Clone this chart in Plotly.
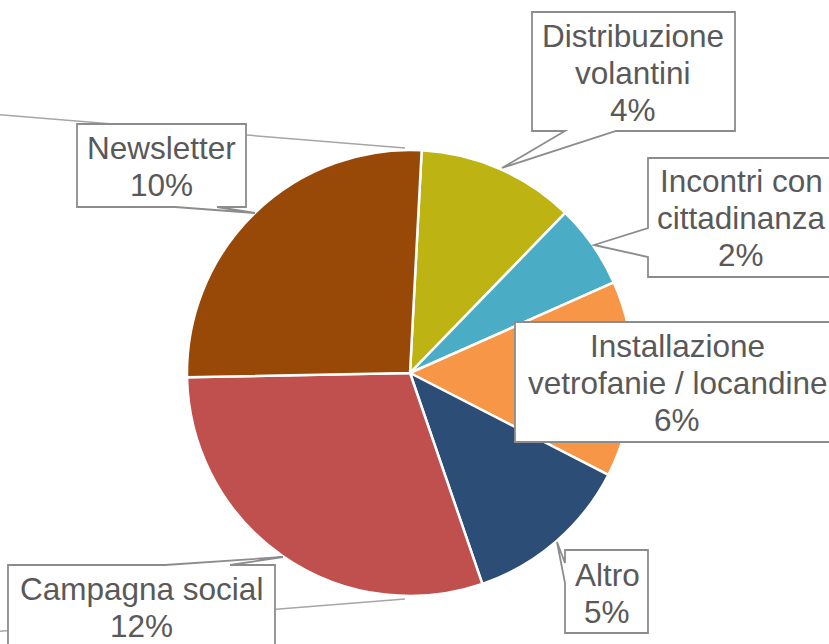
import plotly.graph_objects as go

W, H = 829, 644

# dati (in senso orario dall'alto)
categorie = ["Distribuzione volantini", "Incontri con cittadinanza",
             "Installazione vetrofanie / locandine", "Altro",
             "Campagna social", "Newsletter"]
valori = [4.5, 2.4, 5.6, 4.8, 11.8, 10.3]
percentuali = ["4%", "2%", "6%", "5%", "12%", "10%"]
righe_etichetta = [["Distribuzione", "volantini"], ["Incontri con", "cittadinanza"],
                   ["Installazione", "vetrofanie / locandine"], ["Altro"],
                   ["Campagna social"], ["Newsletter"]]
colori = ["#BDB413", "#4BACC6", "#F79646", "#2C4D75", "#C0504D", "#984807"]

# posizione dei riquadri (pixel): centro del testo + contorno del fumetto
centri = [(633, 73), (741, 218), (677, 383), (607, 593), (141, 607), (161, 166)]
contorni = [
    [(532, 12), (735, 12), (735, 131), (616, 131), (502, 168), (565, 131), (532, 131)],
    [(648, 158), (840, 158), (840, 277), (648, 277), (648, 257), (594, 245), (648, 228)],
    [(515, 322), (840, 322), (840, 442), (515, 442)],
    [(565, 550), (648, 550), (648, 633), (565, 633), (565, 583), (557, 542), (565, 563)],
    [(8, 565), (165, 565), (283, 557), (230, 565), (275, 565), (275, 660), (8, 660)],
    [(77, 124), (246, 124), (246, 207), (217, 207), (255, 213), (175, 207), (77, 207)],
]
linee_guida = [[(-10, 114), (405, 148)], [(-10, 632), (405, 599)]]


def px(x):
    return x / W


def py(y):
    return 1 - y / H


fig = go.Figure(go.Pie(
    labels=categorie, values=valori, sort=False, direction="clockwise", rotation=3,
    marker=dict(colors=colori, line=dict(color="white", width=2.5)),
    textinfo="none", hoverinfo="label+percent",
    domain=dict(x=[px(187), px(633)], y=[py(596), py(150)]),
))

shapes = []
for (x0, y0), (x1, y1) in linee_guida:
    shapes.append(dict(type="line", xref="paper", yref="paper", x0=px(x0), y0=py(y0),
                       x1=px(x1), y1=py(y1), line=dict(color="#A6A6A6", width=1.5)))
for c in contorni:
    path = "M" + " L".join(f"{px(x):.5f},{py(y):.5f}" for x, y in c) + " Z"
    shapes.append(dict(type="path", xref="paper", yref="paper", path=path,
                       fillcolor="white", line=dict(color="#8C8C8C", width=1.8)))

annotations = []
passo = 37
for righe, pct, (cx, cy) in zip(righe_etichetta, percentuali, centri):
    testo = righe + [pct]
    n = len(testo)
    for i, t in enumerate(testo):
        y = cy + (i - (n - 1) / 2) * passo
        annotations.append(dict(text=t, xref="paper", yref="paper", x=px(cx), y=py(y),
                                xanchor="center", yanchor="middle", showarrow=False,
                                font=dict(family="Liberation Sans, Arial", size=31.5, color="#595959")))

fig.update_layout(
    width=W, height=H, margin=dict(l=0, r=0, t=0, b=0),
    paper_bgcolor="white", plot_bgcolor="white", showlegend=False,
    shapes=shapes, annotations=annotations,
)

# niente margine del body, cosi' la figura parte dall'angolo della pagina
fig.write_html("out.html", config={"displayModeBar": False},
               post_script="document.body.style.margin='0';")
